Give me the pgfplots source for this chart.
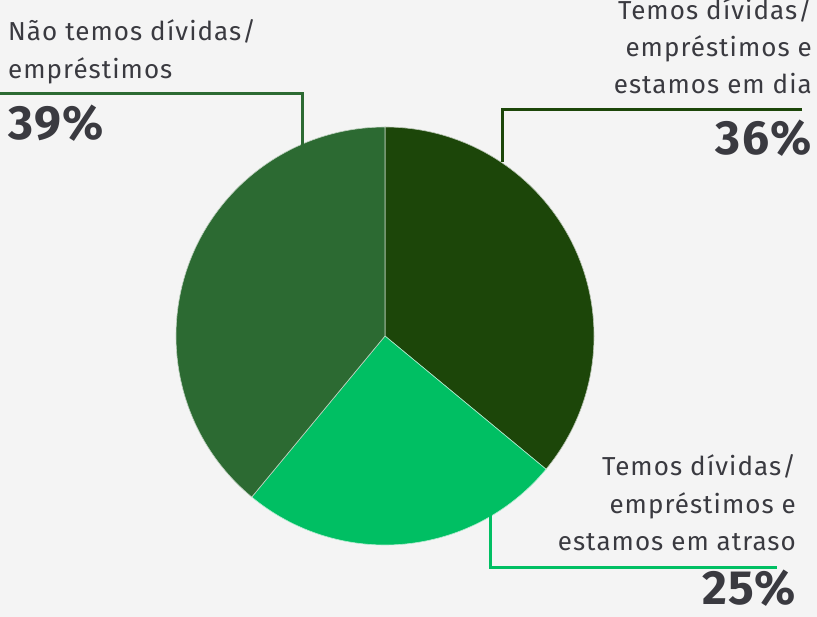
\documentclass[border=0pt]{standalone}
\usepackage{pgfplots}
\pgfplotsset{compat=1.18}
\usepackage{pgfplotstable}
\usepackage{fontspec}
\setmainfont{Fira Sans}

\definecolor{bg}{HTML}{F4F4F4}
\definecolor{txt}{HTML}{3A3A40}
\definecolor{gdark}{HTML}{1C4609}
\definecolor{gmid}{HTML}{2C6A32}
\definecolor{glight}{HTML}{00BF63}

\tikzset{
    lbl/.style={text=txt, font=\fontsize{26}{30}\selectfont\addfontfeature{LetterSpace=4}, inner sep=0pt},
    txtn/.style={lbl, anchor=base west},
    txte/.style={lbl, anchor=base east},
    pct/.style={text=txt, font=\fontsize{48}{52}\selectfont\bfseries\addfontfeature{LetterSpace=3}, inner sep=0pt},
}

% shares, clockwise from 12 o'clock
\pgfplotstableread{
value
36
25
39
}\piedata

\pgfplotstablegetelem{0}{value}\of\piedata \let\va\pgfplotsretval
\pgfplotstablegetelem{1}{value}\of\piedata \let\vb\pgfplotsretval
\pgfplotstablegetelem{2}{value}\of\piedata \let\vc\pgfplotsretval
\pgfmathsetmacro\aA{90-3.6*\va}
\pgfmathsetmacro\aB{\aA-3.6*\vb}
\pgfmathsetmacro\aC{\aB-3.6*\vc}

\begin{document}
\begin{tikzpicture}
\begin{axis}[
    name=ax, at={(0,0)}, anchor=south west,
    width=817pt, height=617pt, scale only axis,
    xmin=0, xmax=817, ymin=0, ymax=617, y dir=reverse,
    hide axis,
]
\fill[bg] (axis cs:0,0) rectangle (axis cs:817,617);

% wedges
\fill[gdark, draw=white!70!gdark, line width=0.6pt] (axis cs:385,336) -- ++(90:209pt) arc[start angle=90, end angle=\aA, radius=209pt] -- cycle;
\fill[glight, draw=white!70!glight, line width=0.6pt] (axis cs:385,336) -- ++(\aA:209pt) arc[start angle=\aA, end angle=\aB, radius=209pt] -- cycle;
\fill[gmid, draw=white!70!gmid, line width=0.6pt] (axis cs:385,336) -- ++(\aB:209pt) arc[start angle=\aB, end angle=\aC, radius=209pt] -- cycle;

% leader lines
\draw[gmid, line width=3pt] (axis cs:0,94) -- (axis cs:302.5,94) -- (axis cs:302.5,145);
\draw[gdark, line width=3pt] (axis cs:802,110) -- (axis cs:502,110) -- (axis cs:502,162);
\draw[glight, line width=3pt] (axis cs:490,512) -- (axis cs:490,567) -- (axis cs:777,567);

% labels
\node[txtn] at (axis cs:8,41) {Não temos dívidas/};
\node[txtn] at (axis cs:8,79) {empréstimos};
\node[pct, anchor=base west] at (axis cs:8,140) {39\%};

\node[txte] at (axis cs:812,20) {Temos dívidas/};
\node[txte] at (axis cs:812,57) {empréstimos e};
\node[txte] at (axis cs:812,94) {estamos em dia};
\node[pct, anchor=base east] at (axis cs:812,155) {36\%};

\node[txte] at (axis cs:796,476) {Temos dívidas/};
\node[txte] at (axis cs:796,513) {empréstimos e};
\node[txte] at (axis cs:796,550) {estamos em atraso};
\node[pct, anchor=base east] at (axis cs:796,604) {25\%};
\end{axis}
\pgfresetboundingbox
\useasboundingbox (ax.south west) rectangle (ax.north east);
\end{tikzpicture}
\end{document}
